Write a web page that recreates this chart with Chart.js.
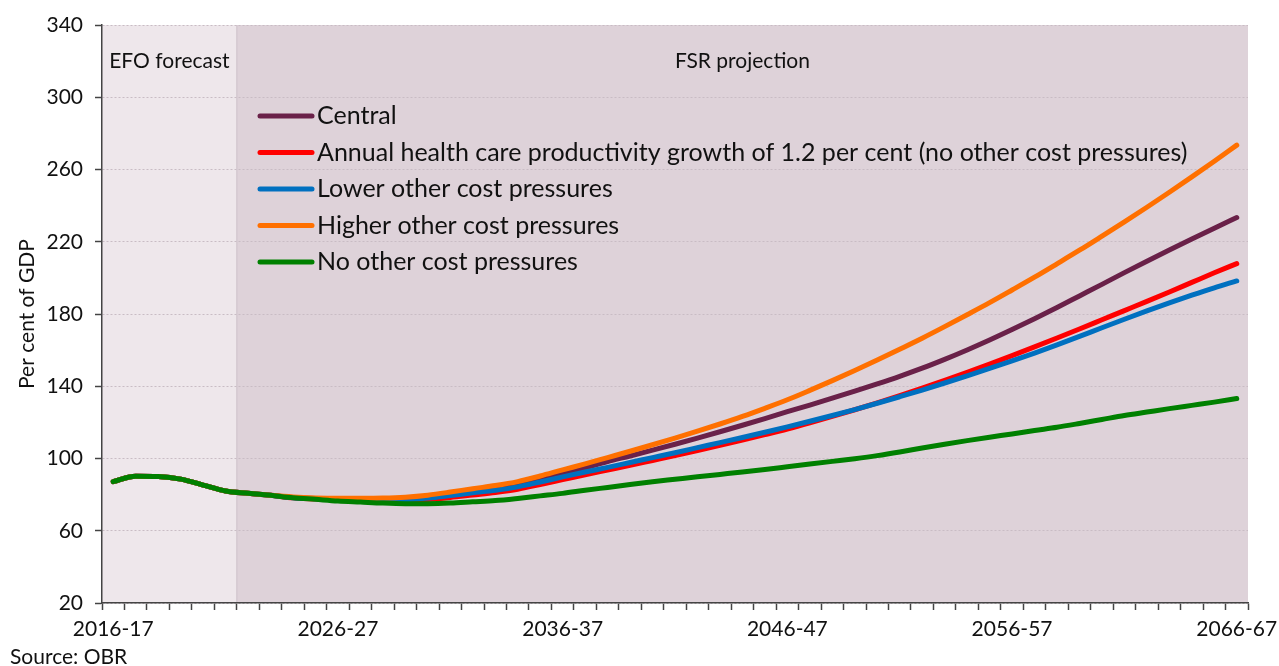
<!DOCTYPE html>
<html>
<head>
<meta charset="utf-8">
<script src="https://cdn.jsdelivr.net/npm/chart.js@4.4.0/dist/chart.umd.min.js"></script>
<style>
  html, body { margin: 0; background: #fff; }
  #wrap { width: 1279px; height: 666px; position: relative; }
</style>
</head>
<body>
<div id="wrap"><canvas id="chart"></canvas></div>
<script>
const years = [
  "2016-17","2017-18","2018-19","2019-20","2020-21","2021-22","2022-23","2023-24","2024-25","2025-26",
  "2026-27","2027-28","2028-29","2029-30","2030-31","2031-32","2032-33","2033-34","2034-35","2035-36",
  "2036-37","2037-38","2038-39","2039-40","2040-41","2041-42","2042-43","2043-44","2044-45","2045-46",
  "2046-47","2047-48","2048-49","2049-50","2050-51","2051-52","2052-53","2053-54","2054-55","2055-56",
  "2056-57","2057-58","2058-59","2059-60","2060-61","2061-62","2062-63","2063-64","2064-65","2065-66",
  "2066-67"
];

const central = [
  87.2, 90.2, 90.0, 88.6, 85.3, 82.0, 80.7, 79.6, 78.4, 77.8,
  77.5, 77.3, 77.3, 77.7, 78.6, 80.1, 81.8, 83.4, 85.3, 88.2,
  91.4, 94.8, 98.3, 101.4, 104.6, 107.9, 111.3, 114.8, 118.4, 122.1,
  125.9, 129.6, 133.4, 137.3, 141.3, 145.5, 150.0, 154.9, 160.1, 165.6,
  171.4, 177.4, 183.6, 190.0, 196.4, 202.9, 209.2, 215.4, 221.5, 227.5,
  233.4
];
const productivity = [
  87.2, 90.2, 90.0, 88.6, 85.3, 82.0, 80.7, 79.6, 78.2, 77.6,
  77.1, 76.8, 76.6, 76.7, 77.3, 78.4, 79.8, 81.2, 83.0, 85.6,
  88.3, 91.0, 93.6, 96.2, 98.9, 101.6, 104.4, 107.3, 110.2, 113.2,
  116.3, 119.7, 123.3, 127.0, 130.8, 134.8, 139.0, 143.3, 147.7, 152.3,
  157.0, 161.8, 166.7, 171.7, 176.8, 181.9, 187.0, 192.2, 197.5, 202.8,
  207.9
];
const lowerOther = [
  87.2, 90.2, 90.0, 88.6, 85.3, 82.0, 80.7, 79.6, 78.3, 77.7,
  77.3, 77.0, 76.9, 77.2, 78.1, 79.5, 81.0, 82.4, 84.3, 87.0,
  89.8, 92.5, 95.1, 97.8, 100.5, 103.2, 106.0, 108.8, 111.6, 114.5,
  117.5, 120.6, 123.8, 127.1, 130.6, 134.2, 137.9, 141.8, 145.8, 149.9,
  154.1, 158.4, 162.9, 167.6, 172.4, 177.1, 181.7, 186.1, 190.4, 194.5,
  198.3
];
const higherOther = [
  87.2, 90.2, 90.0, 88.6, 85.3, 82.0, 80.7, 79.6, 78.7, 78.2,
  78.0, 78.0, 78.1, 78.6, 79.7, 81.4, 83.3, 85.0, 87.2, 90.3,
  93.7, 97.0, 100.5, 104.0, 107.6, 111.3, 115.1, 119.1, 123.3, 127.8,
  132.5, 137.7, 143.1, 148.7, 154.5, 160.5, 166.6, 173.0, 179.6, 186.3,
  193.3, 200.4, 207.8, 215.3, 223.1, 231.0, 239.1, 247.4, 255.9, 264.6,
  273.5
];
const noOther = [
  87.2, 90.2, 90.0, 88.6, 85.3, 82.0, 80.7, 79.6, 78.3, 77.4,
  76.5, 75.9, 75.3, 75.0, 75.0, 75.3, 76.0, 76.7, 77.9, 79.3,
  80.7, 82.4, 84.0, 85.6, 87.1, 88.5, 89.9, 91.2, 92.5, 93.9,
  95.4, 96.9, 98.4, 99.9, 101.6, 103.6, 105.8, 107.9, 109.9, 111.8,
  113.6, 115.5, 117.3, 119.4, 121.6, 123.8, 125.7, 127.6, 129.4, 131.2,
  133.2
];

const seriesNames = [
  "Central",
  "Annual health care productivity growth of 1.2 per cent (no other cost pressures)",
  "Lower other cost pressures",
  "Higher other cost pressures",
  "No other cost pressures"
];
const seriesColors = ["#6a2149", "#ff0000", "#0070c0", "#ff7000", "#008000"];
const yTicks = [20, 60, 100, 140, 180, 220, 260, 300, 340];
const tickLabelYears = ["2016-17", "2026-27", "2036-37", "2046-47", "2056-57", "2066-67"];
const lastForecastYear = "2021-22";

const FONT = "Lato, 'Open Sans', sans-serif";
const TEXT = "#111";
const efoFill = "#eee7eb";
const fsrFill = "#ded2d9";

// shaded forecast / projection periods behind the grid
const periodShading = {
  id: "periodShading",
  beforeDraw(chart) {
    const { ctx, chartArea: a, scales: { x } } = chart;
    const i = years.indexOf(lastForecastYear);
    const split = (x.getPixelForValue(i) + x.getPixelForValue(i + 1)) / 2;
    ctx.save();
    ctx.fillStyle = efoFill;
    ctx.fillRect(a.left, a.top, split - a.left, a.bottom - a.top);
    ctx.fillStyle = fsrFill;
    ctx.fillRect(split, a.top, a.right - split, a.bottom - a.top);
    ctx.strokeStyle = "#cdbfc8";
    ctx.lineWidth = 1;
    ctx.beginPath();
    ctx.moveTo(split, a.top);
    ctx.lineTo(split, a.bottom);
    ctx.stroke();
    ctx.fillStyle = TEXT;
    ctx.font = "21px " + FONT;
    ctx.textAlign = "center";
    ctx.textBaseline = "middle";
    ctx.fillText("EFO forecast", (a.left + split) / 2, a.top + 36);
    ctx.fillText("FSR projection", (split + a.right) / 2, a.top + 36);
    ctx.restore();
  }
};

// legend inside the plot, plus source note
const insideLegend = {
  id: "insideLegend",
  afterDraw(chart) {
    const { ctx, chartArea: a } = chart;
    const x0 = a.left + 158, y0 = a.top + 91, step = 36.5;
    ctx.save();
    ctx.font = "25px " + FONT;
    ctx.textBaseline = "middle";
    ctx.textAlign = "left";
    ctx.lineCap = "round";
    ctx.lineWidth = 5;
    seriesNames.forEach((name, k) => {
      const y = y0 + k * step;
      ctx.strokeStyle = seriesColors[k];
      ctx.beginPath();
      ctx.moveTo(x0, y);
      ctx.lineTo(x0 + 52, y);
      ctx.stroke();
      ctx.fillStyle = TEXT;
      ctx.fillText(name, x0 + 57, y);
    });
    ctx.font = "21px " + FONT;
    ctx.textBaseline = "alphabetic";
    ctx.fillText("Source: OBR", 10, 664);
    ctx.restore();
  }
};

const lineSet = (label, data, color, order) => ({
  label, data, order,
  borderColor: color,
  backgroundColor: color,
  borderWidth: 5,
  borderCapStyle: "round",
  borderJoinStyle: "round",
  pointRadius: 0,
  cubicInterpolationMode: "monotone",
  fill: false
});

new Chart(document.getElementById("chart"), {
  type: "line",
  data: {
    labels: years,
    datasets: [
      lineSet(seriesNames[0], central, seriesColors[0], 3),
      lineSet(seriesNames[1], productivity, seriesColors[1], 4),
      lineSet(seriesNames[2], lowerOther, seriesColors[2], 2),
      lineSet(seriesNames[3], higherOther, seriesColors[3], 1),
      lineSet(seriesNames[4], noOther, seriesColors[4], 0)
    ]
  },
  options: {
    responsive: true,
    maintainAspectRatio: false,
    animation: false,
    layout: { padding: { left: 0, right: 31, top: 25, bottom: 0 } },
    plugins: { legend: { display: false }, tooltip: { enabled: false } },
    scales: {
      x: {
        offset: true,
        grid: { display: true, drawOnChartArea: false, offset: true, tickColor: "#444", tickLength: 7, tickWidth: 1.5 },
        border: { color: "#444", width: 1.5 },
        ticks: {
          autoSkip: false, maxRotation: 0, minRotation: 0,
          padding: 7, color: TEXT, font: { family: FONT, size: 21 },
          callback: (v, i) => tickLabelYears.includes(years[i]) ? years[i] : ""
        },
        afterFit: s => { s.height = 63; s.paddingLeft = 0; s.paddingRight = 0; }
      },
      y: {
        min: yTicks[0], max: yTicks[yTicks.length - 1],
        afterBuildTicks: s => { s.ticks = yTicks.map(v => ({ value: v })); },
        grid: { color: "#c9bcc4", lineWidth: 1, tickColor: "#444", tickLength: 7, tickWidth: 1.5 },
        border: { color: "#444", width: 1.5, dash: [2, 2] },
        ticks: { padding: 12, color: TEXT, font: { family: FONT, size: 21 } },
        title: { display: true, text: "Per cent of GDP", color: TEXT, font: { family: FONT, size: 21 }, padding: { top: 15, bottom: 0 } },
        afterFit: s => { s.width = 102; }
      }
    }
  },
  plugins: [periodShading, insideLegend]
});
</script>
</body>
</html>
